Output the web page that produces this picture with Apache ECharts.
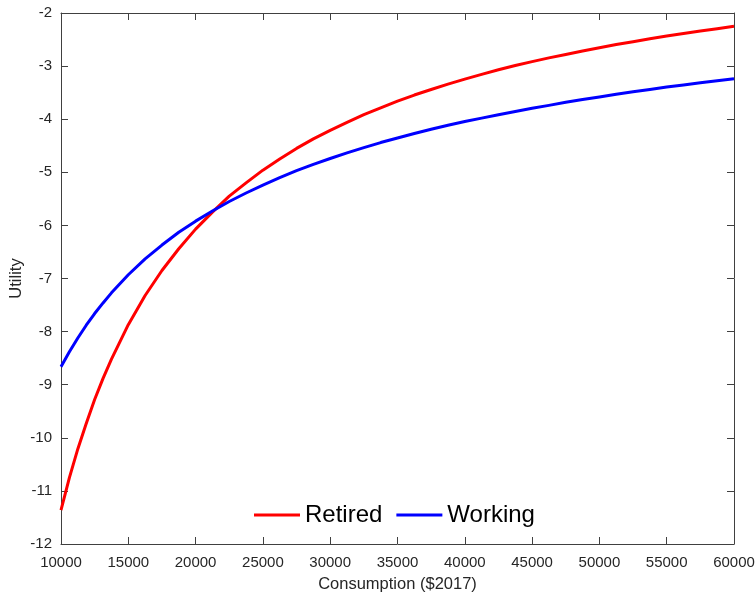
<!DOCTYPE html>
<html>
<head>
<meta charset="utf-8">
<script src="https://cdn.jsdelivr.net/npm/echarts@6/dist/echarts.min.js"></script>
<style>html,body{margin:0;padding:0;background:#fff;}#c{width:756px;height:592px;}</style>
</head>
<body>
<div id="c"></div>
<script>
const consumption = [10000, 10625, 11250, 11875, 12500, 13125, 13750, 15000, 16250, 17500, 18750, 20000, 21250, 22500, 23750, 25000, 26250, 27500, 28750, 30000, 31250, 32500, 33750, 35000, 36250, 37500, 38750, 40000, 41250, 42500, 43750, 45000, 46250, 47500, 48750, 50000, 51250, 52500, 53750, 55000, 56250, 57500, 58750, 60000];
const retired = [-11.36, -10.75, -10.21, -9.73, -9.28, -8.88, -8.52, -7.87, -7.32, -6.85, -6.44, -6.07, -5.75, -5.45, -5.20, -4.96, -4.75, -4.55, -4.37, -4.21, -4.06, -3.915, -3.785, -3.66, -3.545, -3.44, -3.34, -3.245, -3.155, -3.07, -2.99, -2.915, -2.845, -2.78, -2.715, -2.655, -2.595, -2.54, -2.485, -2.435, -2.385, -2.34, -2.295, -2.25];
const working = [-8.66, -8.38, -8.12, -7.88, -7.66, -7.46, -7.27, -6.93, -6.63, -6.37, -6.13, -5.92, -5.73, -5.55, -5.39, -5.24, -5.10, -4.97, -4.85, -4.74, -4.635, -4.535, -4.44, -4.355, -4.27, -4.19, -4.115, -4.045, -3.98, -3.915, -3.855, -3.795, -3.74, -3.68, -3.63, -3.58, -3.53, -3.485, -3.44, -3.395, -3.355, -3.315, -3.275, -3.24];
const seriesNames = ['Retired', 'Working'];
const xTicks = {min: 10000, max: 60000, step: 5000};
const yTicks = {min: -12, max: -2, step: 1};

const txt = '#262626';
const axisCol = '#404040';
const font = 'Liberation Sans, Arial, sans-serif';

const chart = echarts.init(document.getElementById('c'), null, {renderer: 'canvas'});
function xAx(pos, show) {
  return {
    type: 'value', position: pos, min: xTicks.min, max: xTicks.max, interval: xTicks.step,
    axisLine: {show: true, onZero: false, lineStyle: {color: axisCol, width: 1}},
    axisTick: {show: true, inside: true, length: 7, lineStyle: {color: axisCol}},
    axisLabel: {show: show, color: txt, fontSize: 15, fontFamily: font, margin: 11,
                formatter: v => String(v)},
    splitLine: {show: false},
    name: show ? 'Consumption ($2017)' : '', nameLocation: 'middle', nameGap: 32,
    nameMoveOverlap: false,
    nameTextStyle: {color: txt, fontSize: 16.5, fontFamily: font}
  };
}
function yAx(pos, show) {
  return {
    type: 'value', position: pos, min: yTicks.min, max: yTicks.max, interval: yTicks.step,
    axisLine: {show: true, onZero: false, lineStyle: {color: axisCol, width: 1}},
    axisTick: {show: true, inside: true, length: 7, lineStyle: {color: axisCol}},
    axisLabel: {show: show, color: txt, fontSize: 15, fontFamily: font, margin: 9,
                formatter: v => String(v)},
    splitLine: {show: false},
    name: show ? 'Utility' : '', nameLocation: 'middle', nameGap: 36, nameRotate: 90,
    nameMoveOverlap: false,
    nameTextStyle: {color: txt, fontSize: 16.5, fontFamily: font}
  };
}
chart.setOption({
  animation: false,
  backgroundColor: '#fff',
  grid: {left: 61, right: 22, top: 13, bottom: 48, containLabel: false, outerBoundsMode: 'none'},
  xAxis: [xAx('bottom', true), xAx('top', false)],
  yAxis: [yAx('left', true), yAx('right', false)],
  legend: {
    data: seriesNames, left: 254, top: 503, padding: 0, itemGap: 14,
    icon: 'rect', itemWidth: 46, itemHeight: 3,
    textStyle: {color: '#000', fontSize: 24, fontFamily: font}
  },
  series: [
    {name: seriesNames[0], type: 'line', smooth: false, symbol: 'none',
     lineStyle: {color: '#ff0000', width: 3, join: 'round'}, itemStyle: {color: '#ff0000'},
     data: consumption.map((c, i) => [c, retired[i]])},
    {name: seriesNames[1], type: 'line', smooth: false, symbol: 'none',
     lineStyle: {color: '#0000ff', width: 3, join: 'round'}, itemStyle: {color: '#0000ff'},
     data: consumption.map((c, i) => [c, working[i]])}
  ]
});
</script>
</body>
</html>
